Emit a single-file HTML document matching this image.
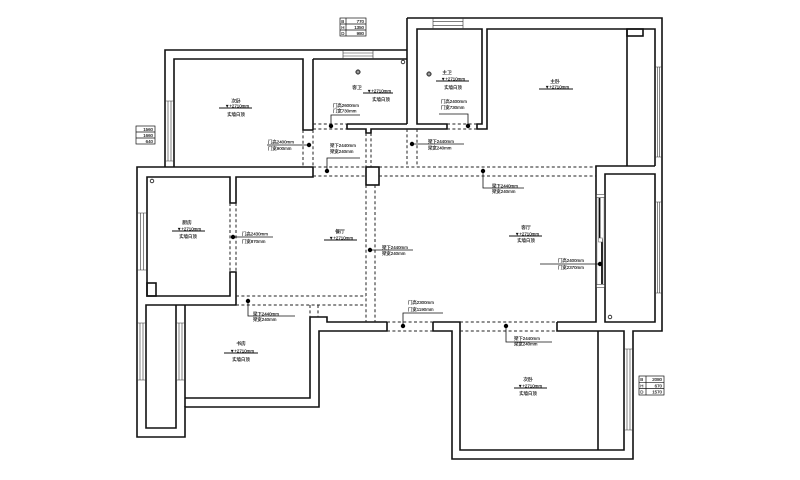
<!DOCTYPE html>
<html><head><meta charset="utf-8"><style>
html,body{margin:0;padding:0;background:#fff;}
svg{display:block;}
text{font-family:"Liberation Sans","Noto Sans CJK SC",sans-serif;fill:#111;stroke:#111;stroke-width:0.12;}
.w{fill:none;stroke:#111;stroke-width:1.6;stroke-linejoin:miter;}
.d{fill:none;stroke:#222;stroke-width:1;stroke-dasharray:3 2.4;}
.win{fill:none;stroke:#333;stroke-width:0.6;}
.t{font-size:4.4px;}
.n{font-size:4.8px;}
.a{fill:none;stroke:#111;stroke-width:0.8;}
</style></head><body>
<svg width="800" height="480" viewBox="0 0 800 480" xmlns="http://www.w3.org/2000/svg">
<rect width="800" height="480" fill="#fff" stroke="none"/>

<!-- walls -->
<path class="w" d="M165,167 V50 H407"/>
<path class="w" d="M407,18 V124"/>
<path class="w" d="M407,18 H662 V331 H633 V459 H452 V331 H433 V322"/>
<path class="w" d="M387,322 V331 H319 V407 H185 V437 H137 V167 H313 V177 H236 V203 H230 V177 H147 V296 H230 V272 H236 V305 H146 V428 H176 V305"/>
<path class="w" d="M185,305 V407"/>
<path class="w" d="M185,398 H310 V317 H327 V322 H387"/>
<path class="w" d="M174,167 V59 H303 V130 H313"/>
<path class="w" d="M313,59 V130"/>
<path class="w" d="M313,59 H407"/>
<path class="w" d="M347,124 H407"/>
<path class="w" d="M347,124 V129 H366 V133 H371 V129 H447 V124 H417 V29 H482 V124 H477 V129 H487 V29 H655 V166"/>
<path class="w" d="M605,322 V174 H655 V322 Z"/>
<path class="w" d="M557,322 H596 V166 H655"/>
<path class="w" d="M433,322 H460 V450 H624 V331 H557 V322"/>
<path class="w" d="M598,331 V450"/>
<path class="w" d="M627,29 V166"/>
<rect class="w" x="627" y="29" width="16" height="7"/>
<rect class="w" x="366" y="167" width="13" height="18"/>
<rect class="w" x="147" y="283" width="9" height="13"/>

<!-- dashed beams / openings -->
<path class="d" d="M313,167 H366 M379,167 H596 M313,176 H366 M379,176 H596"/>
<path class="d" d="M366,185 V322 M375,185 V322"/>
<path class="d" d="M236,296 H366 M236,305 H366"/>
<path class="d" d="M310,305 V317 M318,305 V317"/>
<path class="d" d="M387,322 H433 M387,331 H433 M460,322 H557 M460,331 H557"/>
<path class="d" d="M230,203 V272 M236,203 V272"/>
<path class="d" d="M303,130 V167 M313,130 V167"/>
<path class="d" d="M366,133 V167 M371,133 V167"/>
<path class="d" d="M407,129 V167 M417,129 V167"/>
<path class="d" d="M313,124 H347 M313,129 H347 M447,124 H477 M447,129 H477"/>

<!-- windows -->
<g class="win">
<path d="M165,101 H174 M165,161 H174 M168,101 V161 M171,101 V161"/>
<path d="M343,50 V59 M373,50 V59 M343,53 H373 M343,56 H373"/>
<path d="M433,18 V29 M463,18 V29 M433,21.7 H463 M433,25.3 H463"/>
<path d="M655,67 H662 M655,157 H662 M657.3,67 V157 M659.7,67 V157"/>
<path d="M655,202 H662 M655,293 H662 M657.3,202 V293 M659.7,202 V293"/>
<path d="M624,349 H633 M624,430 H633 M627,349 V430 M630,349 V430"/>
<path d="M137,213 H147 M137,270 H147 M140.3,213 V270 M143.7,213 V270"/>
<path d="M137,323 H146 M137,380 H146 M140,323 V380 M143,323 V380"/>
<path d="M176,323 H185 M176,380 H185 M179,323 V380 M182,323 V380"/>
</g>

<!-- sliding door -->
<rect x="597" y="195" width="7" height="92" fill="none" stroke="#999" stroke-width="0.6"/>
<rect x="596.5" y="194.5" width="8" height="3" fill="#fff" stroke="#444" stroke-width="0.6"/>
<rect x="596.5" y="284.5" width="8" height="3" fill="#fff" stroke="#444" stroke-width="0.6"/>
<line x1="599.5" y1="198" x2="599.5" y2="241" stroke="#111" stroke-width="1.8"/>
<line x1="602" y1="239" x2="602" y2="284" stroke="#111" stroke-width="1.8"/>
<rect x="598.5" y="238" width="4" height="4" fill="#fff" stroke="#555" stroke-width="0.5"/>

<!-- small circles / icons -->
<circle cx="403" cy="62" r="1.8" fill="#fff" stroke="#111" stroke-width="0.8"/>
<circle cx="152" cy="181" r="1.8" fill="#fff" stroke="#111" stroke-width="0.8"/>
<circle cx="610" cy="317" r="1.8" fill="#fff" stroke="#111" stroke-width="0.8"/>
<circle cx="358" cy="72" r="2.3" fill="#555" stroke="#222" stroke-width="0.5"/>
<circle cx="358" cy="72" r="0.9" fill="#ccc"/>
<circle cx="429" cy="74" r="2.3" fill="#555" stroke="#222" stroke-width="0.5"/>
<circle cx="429" cy="74" r="0.9" fill="#ccc"/>

<!-- tables -->
<g fill="none" stroke="#111" stroke-width="0.7">
<rect x="340" y="18" width="26" height="18"/>
<path d="M346,18 V36 M340,24 H366 M340,30 H366"/>
<rect x="136" y="126" width="19" height="18"/>
<path d="M136,132 H155 M136,138 H155"/>
<rect x="639" y="376" width="25" height="19"/>
<path d="M646,376 V395 M639,382.3 H664 M639,388.6 H664"/>
</g>
<g class="t">
<text x="341.3" y="22.8">B</text><text x="364" y="22.8" text-anchor="end">770</text>
<text x="341.3" y="28.8">H</text><text x="364" y="28.8" text-anchor="end">1350</text>
<text x="341.3" y="34.8">D</text><text x="364" y="34.8" text-anchor="end">980</text>
<text x="153" y="130.8" text-anchor="end">1560</text>
<text x="153" y="136.8" text-anchor="end">1660</text>
<text x="153" y="142.8" text-anchor="end">640</text>
<text x="640.3" y="381">B</text><text x="662" y="381" text-anchor="end">2080</text>
<text x="640.3" y="387.3">H</text><text x="662" y="387.3" text-anchor="end">670</text>
<text x="640.3" y="393.6">D</text><text x="662" y="393.6" text-anchor="end">1570</text>
</g>

<!-- room labels -->
<g text-anchor="middle">
<text class="n" x="236" y="102.5">次卧</text>
<text class="t" x="237" y="107.3">▼+2710mm</text>
<text class="t" x="236" y="115.8">实墙白顶</text>

<text class="n" x="357" y="89">客卫</text>
<text class="t" x="379" y="92.3">▼+2710mm</text>
<text class="t" x="381" y="100.8">实墙白顶</text>

<text class="n" x="447" y="73.8">主卫</text>
<text class="t" x="453" y="80.3">▼+2710mm</text>
<text class="t" x="453" y="88.8">实墙白顶</text>

<text class="n" x="555" y="82.8">主卧</text>
<text class="t" x="557" y="88.3">▼+2710mm</text>

<text class="n" x="187" y="223.8">厨房</text>
<text class="t" x="189" y="230.3">▼+2710mm</text>
<text class="t" x="188" y="237.8">实墙白顶</text>

<text class="n" x="340" y="232.8">餐厅</text>
<text class="t" x="341" y="239.3">▼+2710mm</text>

<text class="n" x="526" y="228.8">客厅</text>
<text class="t" x="527" y="235.3">▼+2710mm</text>
<text class="t" x="526" y="241.8">实墙白顶</text>

<text class="n" x="241" y="344.8">书房</text>
<text class="t" x="242" y="352.3">▼+2710mm</text>
<text class="t" x="241" y="360.8">实墙白顶</text>

<text class="n" x="528" y="380.8">次卧</text>
<text class="t" x="530" y="387.3">▼+2710mm</text>
<text class="t" x="528" y="394.8">实墙白顶</text>
</g>
<g stroke="#111" stroke-width="0.9">
<line x1="219" y1="108" x2="252" y2="108"/>
<line x1="363" y1="93" x2="393" y2="93"/>
<line x1="436" y1="81" x2="469" y2="81"/>
<line x1="539" y1="89" x2="573" y2="89"/>
<line x1="172" y1="231" x2="205" y2="231"/>
<line x1="324" y1="240" x2="357" y2="240"/>
<line x1="509" y1="236" x2="542" y2="236"/>
<line x1="224" y1="353" x2="258" y2="353"/>
<line x1="514" y1="388" x2="547" y2="388"/>
</g>

<!-- annotations -->
<g>
<path class="a" d="M267,145 H309"/><circle cx="309" cy="145" r="2.2" fill="#000"/>
<text class="t" x="268" y="143.5">门高2400mm</text><text class="t" x="268" y="150">门宽900mm</text>

<path class="a" d="M331,126 V115 H360"/><circle cx="331" cy="126" r="2.2" fill="#000"/>
<text class="t" x="333" y="107">门高2600mm</text><text class="t" x="333" y="112.5">门宽730mm</text>

<path class="a" d="M327,171 V158 H360"/><circle cx="327" cy="171" r="2.2" fill="#000"/>
<text class="t" x="330" y="147">梁下2440mm</text><text class="t" x="330" y="153">梁宽240mm</text>

<path class="a" d="M468,126 V114 H439"/><circle cx="468" cy="126" r="2.2" fill="#000"/>
<text class="t" x="441" y="103">门高2400mm</text><text class="t" x="441" y="109">门宽730mm</text>

<path class="a" d="M412,144 H464"/><circle cx="412" cy="144" r="2.2" fill="#000"/>
<text class="t" x="428" y="143">梁下2440mm</text><text class="t" x="428" y="149.5">梁宽240mm</text>

<path class="a" d="M483,171 V188 H524"/><circle cx="483" cy="171" r="2.2" fill="#000"/>
<text class="t" x="492" y="187.5">梁下2440mm</text><text class="t" x="492" y="193">梁宽240mm</text>

<path class="a" d="M233,237 H273"/><circle cx="233" cy="237" r="2.2" fill="#000"/>
<text class="t" x="242" y="235.5">门高2430mm</text><text class="t" x="242" y="243">门宽870mm</text>

<path class="a" d="M370,250 H413"/><circle cx="370" cy="250" r="2.2" fill="#000"/>
<text class="t" x="382" y="249">梁下2440mm</text><text class="t" x="382" y="255">梁宽240mm</text>

<path class="a" d="M248,301 V316 H295"/><circle cx="248" cy="301" r="2.2" fill="#000"/>
<text class="t" x="253" y="315.5">梁下2440mm</text><text class="t" x="253" y="321">梁宽240mm</text>

<path class="a" d="M403,326 V313 H443"/><circle cx="403" cy="326" r="2.2" fill="#000"/>
<text class="t" x="408" y="304">门高2300mm</text><text class="t" x="408" y="311">门宽1190mm</text>

<path class="a" d="M506,326 V342 H552"/><circle cx="506" cy="326" r="2.2" fill="#000"/>
<text class="t" x="514" y="340">梁下2440mm</text><text class="t" x="514" y="345.5">梁宽240mm</text>

<path class="a" d="M600,264 H540"/><circle cx="600" cy="264" r="2.2" fill="#000"/>
<text class="t" x="558" y="262">门高2400mm</text><text class="t" x="558" y="269">门宽2370mm</text>
</g>
</svg>
</body></html>
